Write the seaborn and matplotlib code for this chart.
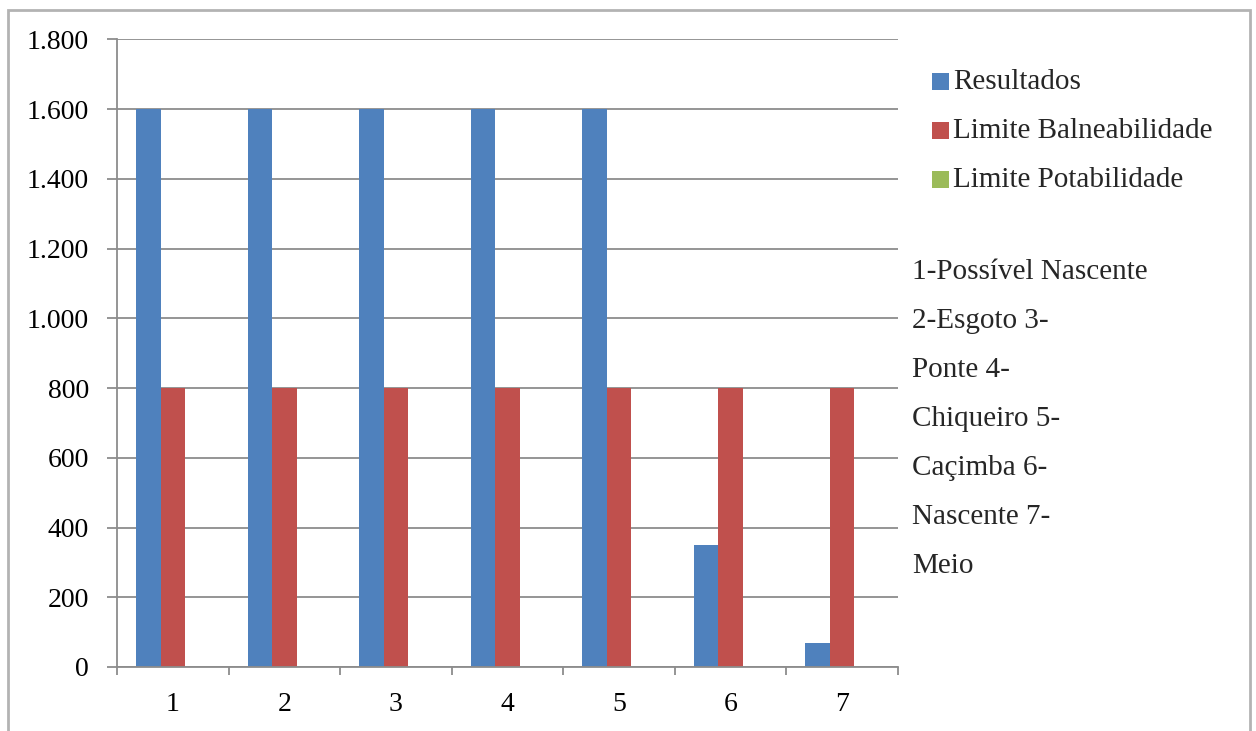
import matplotlib
matplotlib.use("Agg")
import matplotlib.pyplot as plt
from matplotlib.patches import Rectangle
from matplotlib.ticker import FuncFormatter, FixedLocator
import seaborn as sns
import pandas as pd

# Data
pontos = ["1", "2", "3", "4", "5", "6", "7"]
resultados = [1600, 1600, 1600, 1600, 1600, 350, 70]
limite_balneabilidade = [800, 800, 800, 800, 800, 800, 800]
limite_potabilidade = [0, 0, 0, 0, 0, 0, 0]
series_names = ["Resultados", "Limite Balneabilidade", "Limite Potabilidade"]
series_colors = ["#4F81BD", "#C0504D", "#9BBB59"]
y_ticks = [0, 200, 400, 600, 800, 1000, 1200, 1400, 1600, 1800]
descricao = ["1-Possível Nascente", "2-Esgoto 3-", "Ponte 4-", "Chiqueiro 5-",
             "Caçimba 6-", "Nascente 7-", "Meio"]

df = pd.concat([
    pd.DataFrame({"ponto": pontos, "valor": vals, "serie": name})
    for name, vals in zip(series_names, [resultados, limite_balneabilidade, limite_potabilidade])
])

sns.set_theme(style="white")
plt.rcParams["font.family"] = ["Liberation Serif", "DejaVu Serif"]

W, H = 1256, 731
fig = plt.figure(figsize=(W / 100, H / 100), dpi=100)
ax = fig.add_axes([117 / W, 1 - 667 / H, (898 - 117) / W, (667 - 39.3) / H])

sns.barplot(data=df, x="ponto", y="valor", hue="serie", order=pontos,
            hue_order=series_names, palette=series_colors, width=0.66,
            saturation=1, errorbar=None, linewidth=0, ax=ax, legend=False)

grid_c = "#8c8c8c"
ax.set_xlim(-0.5, len(pontos) - 0.5)
ax.set_ylim(0, 1800)
ax.yaxis.set_major_locator(FixedLocator(y_ticks))
ax.yaxis.set_major_formatter(FuncFormatter(lambda v, p: f"{int(v):,}".replace(",", ".")))
ax.grid(axis="y", color=grid_c, linewidth=1.3)
ax.set_axisbelow(True)
ax.set_xlabel("")
ax.set_ylabel("")
for s in ["top", "right"]:
    ax.spines[s].set_visible(False)
for s in ["left", "bottom"]:
    ax.spines[s].set_color(grid_c)
    ax.spines[s].set_linewidth(1.3)

ax.tick_params(axis="y", which="major", left=True, length=7, width=1.3, color=grid_c,
               labelsize=20, pad=13, labelcolor="black")
ax.set_xticks(range(len(pontos)))
ax.set_xticklabels(pontos)
ax.set_xticks([i - 0.5 for i in range(len(pontos) + 1)], minor=True)
ax.tick_params(axis="x", which="major", bottom=False, length=0, labelsize=20, pad=18,
               labelcolor="black")
ax.tick_params(axis="x", which="minor", bottom=True, length=6, width=1.3, color=grid_c)

# Legend entries
leg_y = [82, 131, 180]
for name, color, y in zip(series_names, series_colors, leg_y):
    fig.patches.append(Rectangle((932 / W, 1 - (y + 8) / H), 17 / W, 17 / H,
                                 transform=fig.transFigure, facecolor=color,
                                 edgecolor="none"))
    fig.text(953 / W, 1 - y / H, name, fontsize=21, va="center", ha="left")

# Point descriptions
desc_y = [272, 321, 370, 419, 468, 517, 566]
for txt, y in zip(descricao, desc_y):
    fig.text(912 / W, 1 - y / H, txt, fontsize=21, va="center", ha="left")

# Chart frame
fig.patches.append(Rectangle((8 / W, -0.05), (1250 - 8) / W, 1 - 10 / H + 0.05,
                             transform=fig.transFigure, facecolor="none",
                             edgecolor="#b3b3b3", linewidth=2))

fig.savefig("out.png", dpi=100)
